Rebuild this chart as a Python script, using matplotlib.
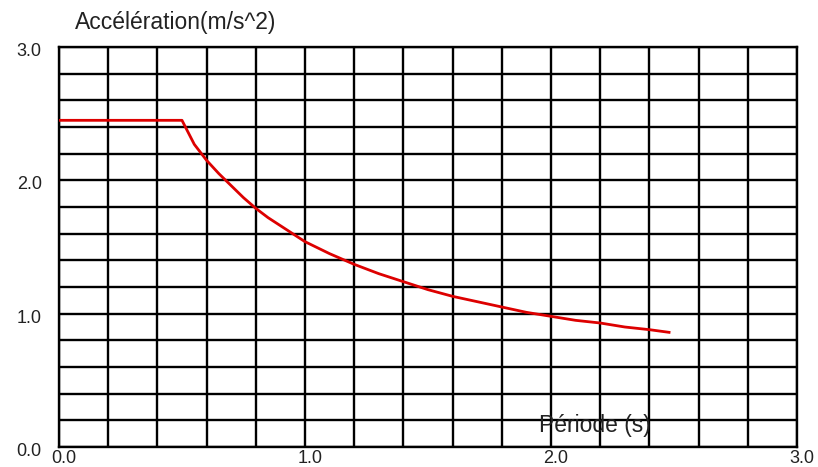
import matplotlib
matplotlib.use("Agg")
import matplotlib.pyplot as plt
import numpy as np

plt.rcParams['font.family'] = ['Liberation Sans', 'DejaVu Sans']

# Design response spectrum: period (s) vs spectral acceleration (m/s^2)
periods = [0.0, 0.5, 0.55, 0.6, 0.65, 0.7, 0.75, 0.8, 0.85, 0.9, 0.95, 1.0,
           1.1, 1.2, 1.3, 1.4, 1.5, 1.6, 1.7, 1.8, 1.9, 2.0, 2.1, 2.2, 2.3,
           2.4, 2.48]
accel = [2.45, 2.45, 2.27, 2.15, 2.05, 1.96, 1.87, 1.79, 1.72, 1.66, 1.60, 1.54,
         1.45, 1.37, 1.30, 1.24, 1.18, 1.13, 1.09, 1.05, 1.01, 0.98, 0.95, 0.93,
         0.90, 0.88, 0.86]

major_ticks = [0.0, 1.0, 2.0, 3.0]
tick_labels = ["0.0", "1.0", "2.0", "3.0"]
grid_steps = np.arange(0, 3.0001, 0.2)

fig = plt.figure(figsize=(8.18, 4.67), dpi=100)
ax = fig.add_axes([0.0721, 0.0428, 0.9022, 0.8566])
ax.set_xlim(0, 3.0)
ax.set_ylim(0, 3.0)

# Grid drawn as plain black lines every 0.2
for g in grid_steps:
    ax.axvline(g, color='black', lw=1.7, zorder=1)
    ax.axhline(g, color='black', lw=1.7, zorder=1)

for s in ax.spines.values():
    s.set_linewidth(1.7)
    s.set_color('black')

ax.plot(periods, accel, color='#dd0000', lw=2.0, zorder=3,
        solid_joinstyle='round')

ax.set_xticks([])
ax.set_yticks([])

# Tick labels
for v, lab in zip(major_ticks, tick_labels):
    ax.text(v + 0.02, -0.02, lab, ha='center', va='top', fontsize=13,
            color='#222222', transform=ax.transData, clip_on=False)
    ax.text(-0.07, v - 0.035, lab, ha='right', va='center', fontsize=13,
            color='#222222', transform=ax.transData, clip_on=False)

fig.text(75 / 818, 1 - 23 / 467, "Accélération(m/s^2)", ha='left', va='center',
         fontsize=16.5, color='#222222')
ax.text(2.18, 0.165, "Période (s)", ha='center', va='center', fontsize=16.5,
        color='#222222', zorder=4)

fig.savefig("out.png", dpi=100)
